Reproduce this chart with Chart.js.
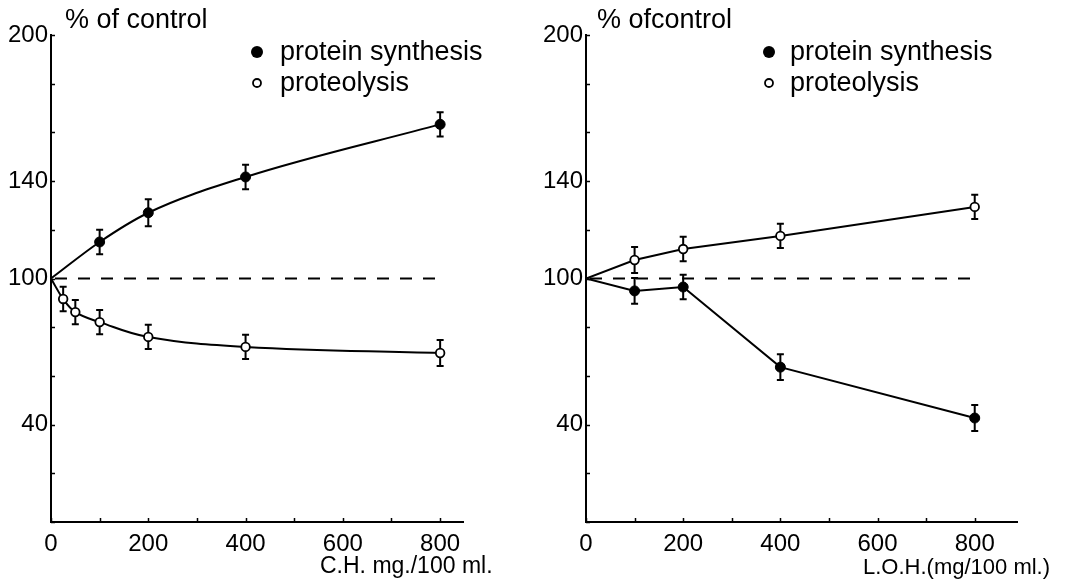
<!DOCTYPE html>
<html>
<head>
<meta charset="utf-8">
<script src="https://cdn.jsdelivr.net/npm/chart.js@4.4.1/dist/chart.umd.min.js"></script>
<style>
  html, body { margin: 0; padding: 0; background: #fff; }
  #wrap { position: relative; width: 1071px; height: 581px; overflow: hidden; }
  canvas { position: absolute; left: 0; top: 0; }
</style>
</head>
<body>
<div id="wrap">
  <canvas id="c1" width="1071" height="581"></canvas>
  <canvas id="c2" width="1071" height="581"></canvas>
</div>
<script>
// ---------- data ----------
// Left panel: C.H. (mg/100 ml)
const csDose = [0, 100, 200, 400, 800];
const csSynthesis = [100, 115, 127, 141.7, 163.3];
const csSynthesisErr = [0, 5, 5.5, 5, 5];
const csProDose = [0, 25, 50, 100, 200, 400, 800];
const csProteolysis = [100, 91.6, 86.2, 82.1, 76, 71.9, 69.4];
const csProteolysisErr = [0, 5, 5, 5, 5, 5, 5.3];
// Right panel: L.O.H. (mg/100 ml)
const lohDose = [0, 100, 200, 400, 800];
const lohSynthesis = [100, 94.9, 96.5, 63.6, 42.7];
const lohSynthesisErr = [0, 5.3, 5, 5.3, 5.3];
const lohProteolysis = [100, 107.6, 112.1, 117.5, 129.4];
const lohProteolysisErr = [0, 5.3, 5, 5, 5];
// control (100 %) reference line
const csControlX = [0, 810];
const lohControlX = [0, 805];
const controlY = [100, 100];
// tick labels
const yTickLabels = [200, 140, 100, 40];
const xTickLabels = [0, 200, 400, 600, 800];
const legendLabels = ['protein synthesis', 'proteolysis'];

const FONT = '"Liberation Sans", Arial, sans-serif';

function pts(xs, ys) { return xs.map((x, i) => ({ x: x, y: ys[i] })); }

// error bars drawn through the library's scales
const errorBars = {
  id: 'errorBars',
  beforeDatasetsDraw(chart) {
    const ctx = chart.ctx, ys = chart.scales.y;
    ctx.save();
    ctx.strokeStyle = '#000';
    ctx.lineWidth = 2;
    chart.data.datasets.forEach((ds, di) => {
      if (!ds.errors) return;
      const meta = chart.getDatasetMeta(di);
      meta.data.forEach((el, i) => {
        const e = ds.errors[i];
        if (!e) return;
        const v = ds.data[i].y;
        const top = ys.getPixelForValue(v + e), bot = ys.getPixelForValue(v - e);
        const x = el.x;
        ctx.beginPath();
        ctx.moveTo(x, top); ctx.lineTo(x, bot);
        ctx.moveTo(x - 3.5, top); ctx.lineTo(x + 3.5, top);
        ctx.moveTo(x - 3.5, bot); ctx.lineTo(x + 3.5, bot);
        ctx.stroke();
      });
    });
    ctx.restore();
  }
};

// inward tick marks
const innerTicks = {
  id: 'innerTicks',
  afterDraw(chart) {
    const ctx = chart.ctx, xs = chart.scales.x, ys = chart.scales.y, a = chart.chartArea;
    ctx.save();
    ctx.strokeStyle = '#000';
    ctx.lineWidth = 1.5;
    ctx.beginPath();
    xs.ticks.forEach(t => {
      const px = Math.round(xs.getPixelForValue(t.value)) + 0.5;
      ctx.moveTo(px, a.bottom); ctx.lineTo(px, a.bottom - 4);
    });
    ys.ticks.forEach(t => {
      const py = Math.round(ys.getPixelForValue(t.value)) + 0.5;
      ctx.moveTo(a.left, py); ctx.lineTo(a.left + 4, py);
    });
    ctx.stroke();
    ctx.restore();
  }
};

// free texts and legend
const texts = {
  id: 'texts',
  afterDraw(chart) {
    const o = chart.options.plugins.texts;
    if (!o) return;
    const ctx = chart.ctx;
    ctx.save();
    ctx.fillStyle = '#000';
    ctx.textBaseline = 'alphabetic';
    ctx.textAlign = 'left';
    o.items.forEach(it => {
      ctx.font = it.size + 'px ' + FONT;
      ctx.fillText(it.text, it.x, it.y);
    });
    o.markers.forEach(m => {
      ctx.beginPath();
      ctx.arc(m.x, m.y, m.r, 0, Math.PI * 2);
      if (m.filled) { ctx.fillStyle = '#000'; ctx.fill(); }
      else { ctx.fillStyle = '#fff'; ctx.fill(); ctx.lineWidth = 1.8; ctx.strokeStyle = '#000'; ctx.stroke(); }
    });
    ctx.restore();
  }
};

function makeChart(id, opt) {
  const lineBase = { borderColor: '#000', borderWidth: 2, pointBorderColor: '#000', fill: false };
  const radii = n => Array.from({ length: n }, (_, i) => i === 0 ? 0 : 5);
  const datasets = [
    Object.assign({}, lineBase, {
      label: 'control', data: pts(opt.controlX, controlY),
      borderDash: [12, 11], borderDashOffset: -4, pointRadius: 0, tension: 0
    }),
    Object.assign({}, lineBase, {
      label: legendLabels[0], data: pts(opt.synX, opt.syn), errors: opt.synErr,
      pointRadius: radii(opt.syn.length), pointBackgroundColor: '#000', pointBorderWidth: 1,
      tension: opt.tension, cubicInterpolationMode: opt.synMode
    }),
    Object.assign({}, lineBase, {
      label: legendLabels[1], data: pts(opt.proX, opt.pro), errors: opt.proErr,
      pointRadius: opt.pro.map((_, i) => i === 0 ? 0 : 4.3), pointBackgroundColor: '#fff', pointBorderWidth: 1.8,
      tension: opt.tension, cubicInterpolationMode: 'default'
    })
  ];
  return new Chart(document.getElementById(id), {
    type: 'line',
    data: { datasets: datasets },
    plugins: [errorBars, innerTicks, texts],
    options: {
      responsive: false,
      animation: false,
      devicePixelRatio: 1,
      layout: { padding: { left: opt.padLeft, right: opt.padRight, top: 35, bottom: 0 } },
      plugins: {
        legend: { display: false },
        tooltip: { enabled: false },
        texts: opt.texts
      },
      scales: {
        x: {
          type: 'linear', min: 0, max: opt.xMax,
          grid: { drawOnChartArea: false, drawTicks: false },
          border: { display: true, color: '#000', width: 2 },
          afterFit: s => { s.height = 59; },
          ticks: {
            stepSize: 100, includeBounds: false, autoSkip: false, maxRotation: 0, padding: 8,
            color: '#000', font: { family: FONT, size: 24 },
            callback: v => xTickLabels.includes(v) ? String(v) : ''
          }
        },
        y: {
          type: 'linear', min: 0, max: 200,
          grid: { drawOnChartArea: false, drawTicks: false },
          border: { display: true, color: '#000', width: 2 },
          afterFit: s => { s.width = 51; },
          ticks: {
            stepSize: 20, autoSkip: false, padding: 3,
            color: '#000', font: { family: FONT, size: 24 },
            callback: v => yTickLabels.includes(v) ? String(v) : ''
          }
        }
      }
    }
  });
}

makeChart('c1', {
  padLeft: 0, padRight: 1071 - 463, xMax: 847,
  controlX: csControlX,
  synX: csDose, syn: csSynthesis, synErr: csSynthesisErr, synMode: 'monotone',
  proX: csProDose, pro: csProteolysis, proErr: csProteolysisErr,
  tension: 0.4,
  texts: {
    items: [
      { text: '% of control', x: 65, y: 28, size: 27 },
      { text: legendLabels[0], x: 280, y: 60, size: 27 },
      { text: legendLabels[1], x: 280, y: 91, size: 27 },
      { text: 'C.H. mg./100 ml.', x: 320, y: 573, size: 23 }
    ],
    markers: [
      { x: 257, y: 52, r: 6, filled: true },
      { x: 257, y: 83, r: 4, filled: false }
    ]
  }
});

makeChart('c2', {
  padLeft: 535, padRight: 1071 - 1017, xMax: 887,
  controlX: lohControlX,
  synX: lohDose, syn: lohSynthesis, synErr: lohSynthesisErr, synMode: 'default',
  proX: lohDose, pro: lohProteolysis, proErr: lohProteolysisErr,
  tension: 0,
  texts: {
    items: [
      { text: '% ofcontrol', x: 597, y: 28, size: 27 },
      { text: legendLabels[0], x: 790, y: 60, size: 27 },
      { text: legendLabels[1], x: 790, y: 91, size: 27 },
      { text: 'L.O.H.(mg/100 ml.)', x: 863, y: 574, size: 22 }
    ],
    markers: [
      { x: 769, y: 52, r: 6, filled: true },
      { x: 769, y: 83, r: 4, filled: false }
    ]
  }
});
</script>
</body>
</html>
